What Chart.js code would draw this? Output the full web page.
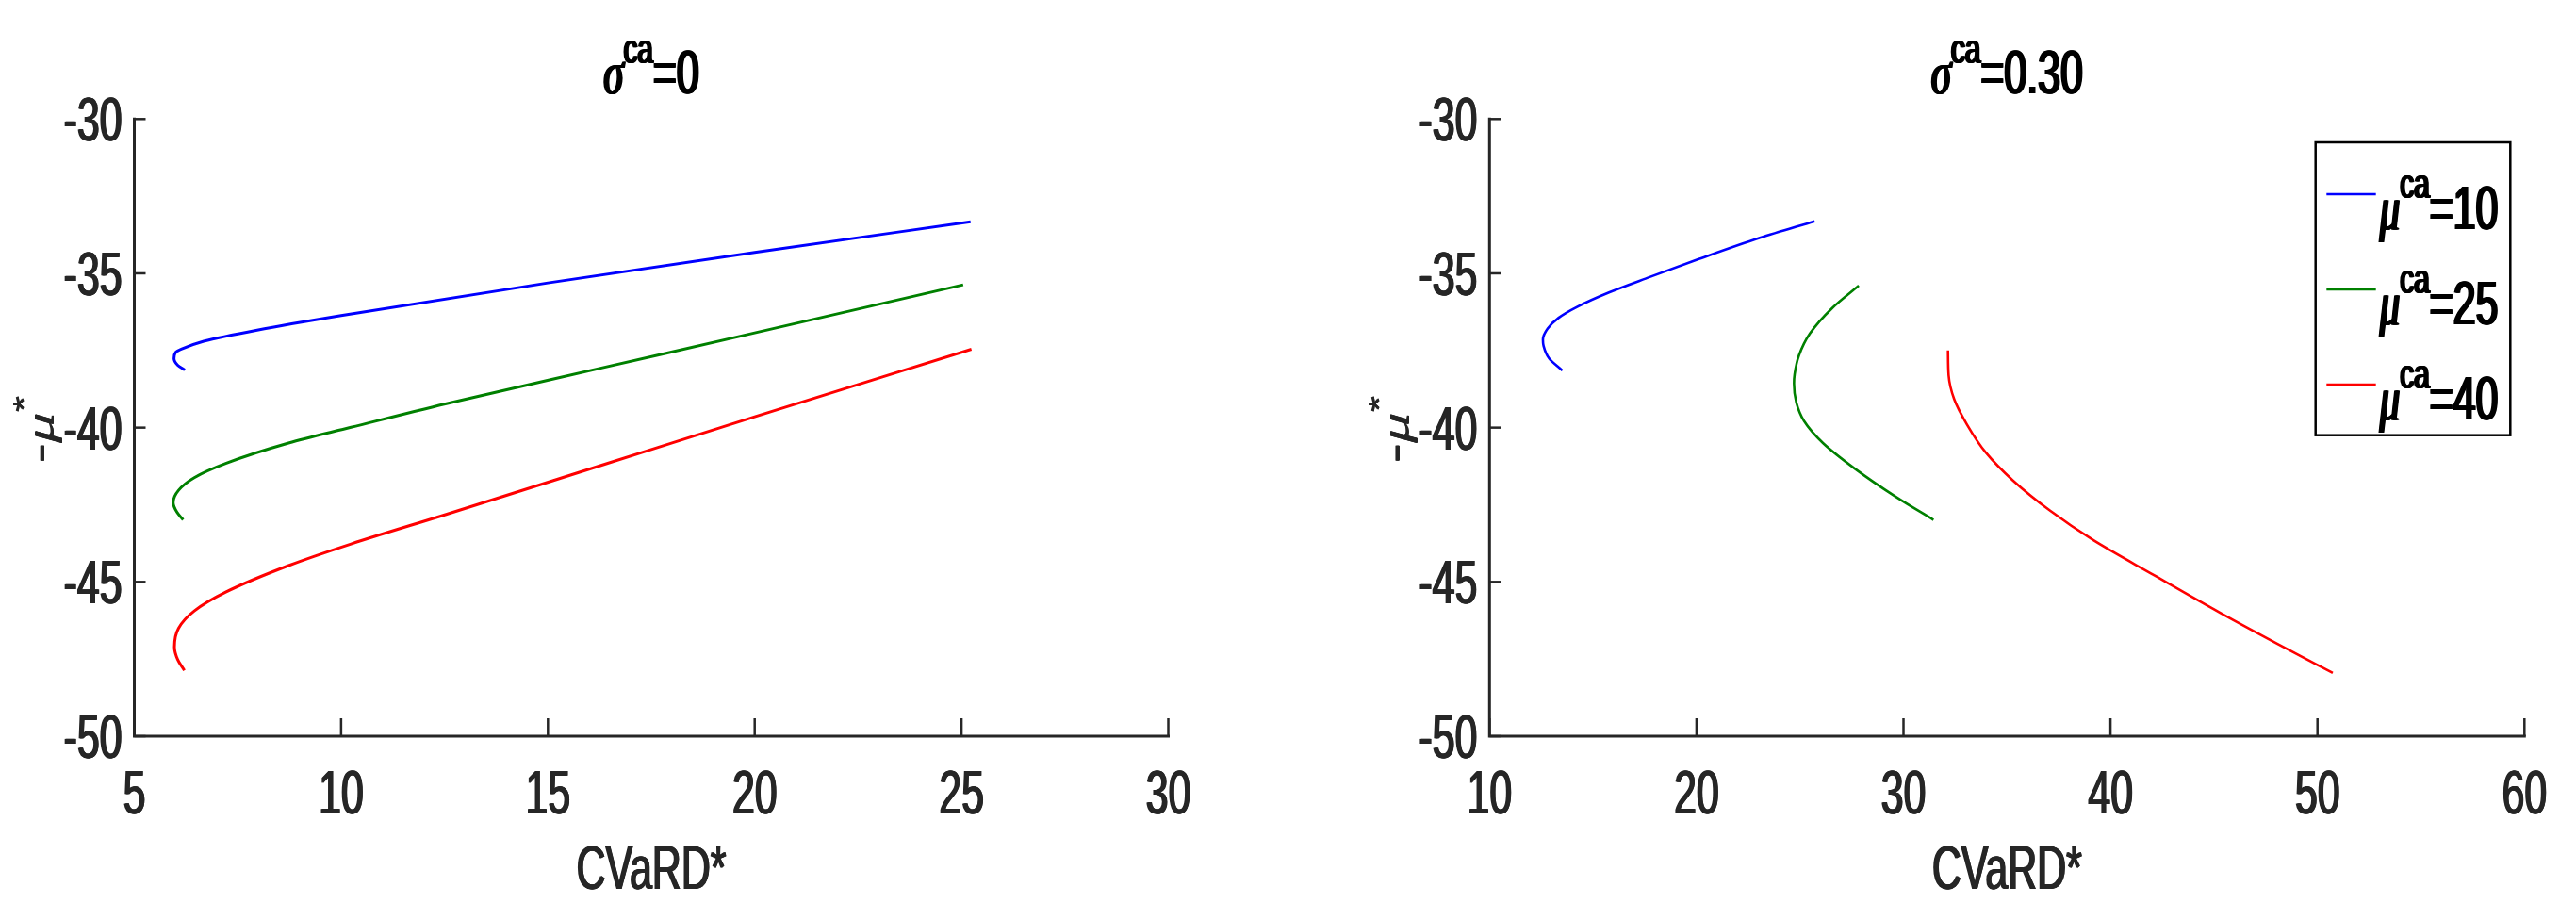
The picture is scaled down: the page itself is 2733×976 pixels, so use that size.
<!DOCTYPE html>
<html>
<head>
<meta charset="utf-8">
<script src="https://cdn.jsdelivr.net/npm/chart.js@4.4.1/dist/chart.umd.min.js"></script>
<style>
html, body { margin: 0; padding: 0; background: #fff; }
#wrap { position: relative; width: 2733px; height: 976px; }
canvas { position: absolute; top: 0; }
</style>
</head>
<body>
<div id="wrap">
  <canvas id="left" width="1366" height="976" style="left:0"></canvas>
  <canvas id="right" width="1367" height="976" style="left:1366px"></canvas>
</div>
<script>
// tick values
const xTicksLeft = [5, 10, 15, 20, 25, 30];
const xTicksRight = [10, 20, 30, 40, 50, 60];
const yTicks = [-50, -45, -40, -35, -30];

const sigmaLabels = ['0', '0.30'];
const muLabels = ['10', '25', '40'];
const lineColors = ['#0000ff', '#008000', '#ff0000'];

// sigma^ca = 0
const cvarL10 = [6.22, 6.05, 5.96, 6.0, 6.15, 6.68, 7.97, 10.0, 15.0, 20.0, 25.22];
const negMuL10 = [-38.13, -37.98, -37.76, -37.56, -37.45, -37.2, -36.84, -36.37, -35.31, -34.32, -33.33];
const cvarL25 = [6.18, 6.03, 5.94, 6.07, 6.45, 7.21, 8.73, 10.24, 12.52, 16.32, 20.0, 25.04];
const negMuL25 = [-42.99, -42.74, -42.43, -42.03, -41.62, -41.16, -40.5, -39.99, -39.23, -38.06, -36.93, -35.37];
const cvarL40 = [6.21, 6.05, 5.97, 6.07, 6.45, 7.21, 8.73, 10.24, 12.52, 16.32, 20.0, 25.24];
const negMuL40 = [-47.87, -47.52, -47.11, -46.5, -45.94, -45.33, -44.47, -43.77, -42.82, -41.21, -39.65, -37.46];

// sigma^ca = 0.30
const cvarR10 = [13.52, 12.88, 12.61, 12.58, 12.81, 13.34, 14.25, 15.77, 17.74, 20.02, 23.06, 25.71];
const negMuR10 = [-38.15, -37.76, -37.35, -37.15, -36.79, -36.44, -36.08, -35.62, -35.12, -34.56, -33.85, -33.31];
const cvarR25 = [27.84, 26.55, 25.48, 24.95, 24.74, 24.71, 24.82, 25.2, 26.11, 27.63, 29.6, 31.45];
const negMuR25 = [-35.4, -36.13, -36.95, -37.66, -38.27, -38.57, -39.18, -39.79, -40.5, -41.32, -42.23, -42.99];
const cvarR40 = [32.15, 32.18, 32.45, 33.06, 33.98, 35.3, 37.1, 39.2, 42.1, 45.3, 48.05, 50.74];
const negMuR40 = [-37.5, -38.3, -39.08, -39.89, -40.81, -41.72, -42.7, -43.66, -44.78, -46.0, -47.0, -47.95];

const SX = 0.66;          // the figure text is horizontally squeezed
const INK = '#262626';
const BIG = 65, SMALL = 45;
const sans = s => s + 'px "Liberation Sans", Arial, sans-serif';
const serifIt = s => 'italic ' + s + 'px "Liberation Serif", "Times New Roman", serif';

function richWidth(ctx, parts) {
    let w = 0;
    parts.forEach(p => { ctx.font = p.font; w += ctx.measureText(p.t).width; });
    return w;
}

// draws text pieces in a row, squeezed in screen x; heavy = extra stroke width in px
function drawRich(ctx, parts, x, y, align, heavy, rotated) {
    ctx.save();
    ctx.translate(x, y);
    ctx.scale(SX, 1);
    if (rotated) ctx.rotate(-Math.PI / 2);
    ctx.textAlign = 'left';
    ctx.textBaseline = 'alphabetic';
    const w = richWidth(ctx, parts);
    let cx = align === 'center' ? -w / 2 : align === 'right' ? -w : 0;
    const offs = [];
    for (let d = 0; d < heavy; d += 0.7) offs.push(d);
    offs.push(heavy);
    parts.forEach(p => {
        ctx.font = p.font;
        offs.forEach(d => {
            const o = d / SX - heavy / SX / 2;
            if (rotated) ctx.fillText(p.t, cx, (p.dy || 0) + o);
            else ctx.fillText(p.t, cx + o, p.dy || 0);
        });
        cx += ctx.measureText(p.t).width;
    });
    ctx.restore();
}

const matlabPlugin = {
    id: 'matlab',
    afterDraw(chart, args, o) {
        const ctx = chart.ctx, a = chart.chartArea;
        const xs = chart.scales.x, ys = chart.scales.y;
        ctx.save();

        // axes + inward ticks
        ctx.strokeStyle = INK;
        ctx.lineWidth = 3;
        ctx.lineCap = 'square';
        ctx.beginPath();
        ctx.moveTo(a.left, a.top);
        ctx.lineTo(a.left, a.bottom);
        ctx.lineTo(a.right, a.bottom);
        ctx.stroke();
        ctx.lineWidth = 2.5;
        ctx.lineCap = 'butt';
        o.xTicks.forEach(v => {
            const px = xs.getPixelForValue(v);
            ctx.beginPath(); ctx.moveTo(px, a.bottom); ctx.lineTo(px, a.bottom - 19); ctx.stroke();
        });
        yTicks.forEach(v => {
            const py = ys.getPixelForValue(v);
            ctx.beginPath(); ctx.moveTo(a.left, py); ctx.lineTo(a.left + 12, py); ctx.stroke();
        });

        // tick labels
        ctx.fillStyle = INK;
        o.xTicks.forEach(v => drawRich(ctx, [{ t: String(v), font: sans(BIG) }], xs.getPixelForValue(v), a.bottom + 82, 'center', 1.6));
        yTicks.forEach(v => drawRich(ctx, [{ t: String(v), font: sans(BIG) }], a.left - 13, ys.getPixelForValue(v) + 23, 'right', 1.6));

        // axis titles
        const midX = (a.left + a.right) / 2;
        drawRich(ctx, [{ t: 'CVaRD*', font: sans(BIG) }], midX, a.bottom + 162, 'center', 1.6);
        drawRich(ctx, [
            { t: '-', font: sans(BIG) },
            { t: 'μ', font: serifIt(BIG) },
            { t: '*', font: sans(SMALL), dy: -33 }
        ], a.left - 86, (a.top + a.bottom) / 2 + 2, 'center', 1.2, true);

        // title
        ctx.fillStyle = '#000';
        drawRich(ctx, [
            { t: 'σ', font: serifIt(BIG) },
            { t: 'ca', font: sans(SMALL), dy: -32 },
            { t: '=' + o.sigma, font: sans(BIG) }
        ], midX, a.top - 27, 'center', 2.6);

        // legend
        if (o.legend) {
            const bl = a.right - 221.6, br = a.right - 15, bt = a.top + 24.7, bb = a.top + 335.4;
            ctx.strokeStyle = '#000';
            ctx.lineWidth = 2.5;
            ctx.strokeRect(bl, bt, br - bl, bb - bt);
            chart.data.datasets.forEach((ds, i) => {
                const ly = a.top + 79.7 + 101 * i;
                ctx.strokeStyle = ds.borderColor;
                ctx.lineWidth = 2.5;
                ctx.beginPath(); ctx.moveTo(bl + 11.6, ly); ctx.lineTo(bl + 64, ly); ctx.stroke();
                ctx.fillStyle = '#000';
                drawRich(ctx, [
                    { t: 'μ', font: serifIt(BIG) },
                    { t: 'ca', font: sans(SMALL), dy: -33 },
                    { t: '=' + muLabels[i], font: sans(BIG) }
                ], bl + 68, a.top + 116.7 + 101 * i, 'left', 2.6);
            });
        }
        ctx.restore();
    }
};

function panel(id, xTicks, xs, ys, sigma, legend, pad, lw) {
    return new Chart(document.getElementById(id), {
        type: 'line',
        data: {
            datasets: xs.map((xv, i) => ({
                label: 'μca=' + muLabels[i],
                data: xv.map((v, k) => ({ x: v, y: ys[i][k] })),
                borderColor: lineColors[i],
                borderWidth: lw,
                pointRadius: 0,
                cubicInterpolationMode: 'monotone',
                fill: false
            }))
        },
        options: {
            indexAxis: 'y',   // curves are monotone in -mu*, so smooth along y
            responsive: false,
            animation: false,
            devicePixelRatio: 1,
            layout: { padding: pad },
            plugins: {
                legend: { display: false },
                tooltip: { enabled: false },
                matlab: { xTicks: xTicks, sigma: sigma, legend: legend }
            },
            scales: {
                x: { type: 'linear', display: false, min: xTicks[0], max: xTicks[xTicks.length - 1] },
                y: { type: 'linear', display: false, min: yTicks[0], max: yTicks[yTicks.length - 1] }
            }
        },
        plugins: [matlabPlugin]
    });
}

panel('left', xTicksLeft,
    [cvarL10, cvarL25, cvarL40], [negMuL10, negMuL25, negMuL40],
    sigmaLabels[0], false,
    { left: 142.5, right: 126.5, top: 126.3, bottom: 195 }, 3);

panel('right', xTicksRight,
    [cvarR10, cvarR25, cvarR40], [negMuR10, negMuR25, negMuR40],
    sigmaLabels[1], true,
    { left: 214.3, right: 54.7, top: 126.3, bottom: 195 }, 2.6);
</script>
</body>
</html>
